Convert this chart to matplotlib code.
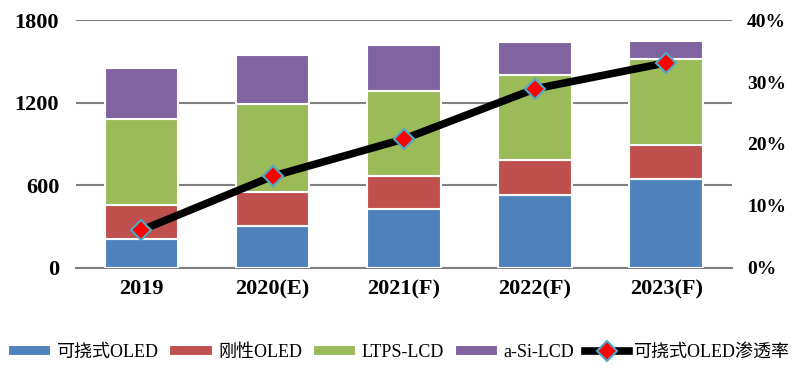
import matplotlib.pyplot as plt
import numpy as np

plt.rcParams['font.family'] = ['Liberation Serif', 'Noto Sans CJK SC']

years = ["2019", "2020(E)", "2021(F)", "2022(F)", "2023(F)"]
flex_oled = [210, 305, 428, 530, 646]
rigid_oled = [247, 247, 240, 254, 247]
ltps_lcd = [624, 638, 617, 617, 624]
asi_lcd = [371, 356, 334, 239, 131]
flex_share = [6.1, 14.8, 20.8, 28.9, 33.1]

series = [flex_oled, rigid_oled, ltps_lcd, asi_lcd]
names = ["可挠式OLED", "刚性OLED", "LTPS-LCD", "a-Si-LCD"]
colors = ["#4F81BD", "#C0504D", "#9BBB59", "#8064A2"]

fig = plt.figure(figsize=(7.98, 3.85), dpi=100)
ax = fig.add_axes([0.095, 0.304, 0.822, 0.644])
x = np.arange(len(years))

bottom = np.zeros(len(years))
handles = []
for vals, name, c in zip(series, names, colors):
    b = ax.bar(x, vals, 0.56, bottom=bottom, color=c, edgecolor="white",
               linewidth=1.5, label=name, zorder=3)
    handles.append(b)
    bottom += np.array(vals)

ax.set_ylim(0, 1800)
ax.set_xlim(-0.5, 4.5)
ax.set_yticks([0, 600, 1200, 1800])
ax.set_xticks(x)
ax.set_xticklabels(years)
ax.yaxis.grid(True, color="#808080", linewidth=1.5, zorder=0)
for s in ["top", "right", "left"]:
    ax.spines[s].set_visible(False)
ax.spines["bottom"].set_color("#808080")
ax.spines["bottom"].set_linewidth(1.5)
ax.tick_params(axis="y", length=0, labelsize=16, pad=12)
ax.tick_params(axis="x", length=0, labelsize=16, pad=8)
for t in ax.get_xticklabels() + ax.get_yticklabels():
    t.set_fontweight("bold")

ax2 = ax.twinx()
ln, = ax2.plot(x, flex_share, color="black", linewidth=5.5, marker="D",
               markersize=10, markerfacecolor="#FF0000", markeredgecolor="#4BACC6",
               markeredgewidth=1.5, label="可挠式OLED渗透率", zorder=5)
ax2.set_ylim(0, 40)
ax2.set_yticks([0, 10, 20, 30, 40])
ax2.set_yticklabels([f"{v}%" for v in [0, 10, 20, 30, 40]])
for s in ["top", "right", "left", "bottom"]:
    ax2.spines[s].set_visible(False)
ax2.tick_params(length=0, labelsize=14, pad=11)
for t in ax2.get_yticklabels():
    t.set_fontweight("bold")

fig.legend(handles + [ln], names + ["可挠式OLED渗透率"], loc="center",
           bbox_to_anchor=(0.5, 0.085), ncol=5, frameon=False, fontsize=13,
           handlelength=2.4, handleheight=0.6, columnspacing=0.6, handletextpad=0.3)

fig.savefig("out.png", dpi=100)
